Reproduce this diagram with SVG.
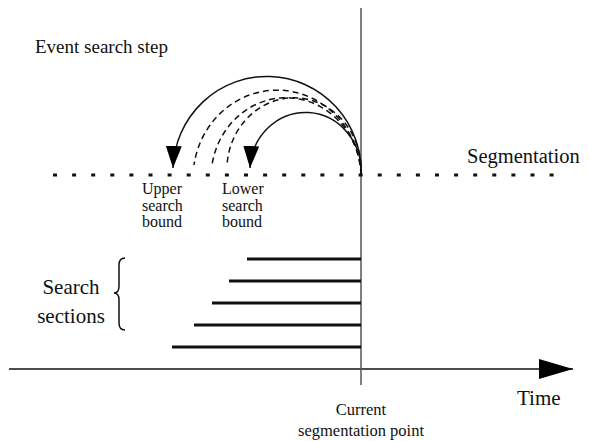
<svg xmlns="http://www.w3.org/2000/svg" width="589" height="441" viewBox="0 0 589 441">
<style>
text{font-family:"Liberation Serif","Times New Roman",serif;fill:#111}
.big{font-size:19px}
.lg{font-size:21px}
.mid{font-size:16px}
.sm{font-size:16.5px}
.solid{fill:none;stroke:#111;stroke-width:1.5}
.dash{fill:none;stroke:#111;stroke-width:1.5;stroke-dasharray:6 4}
.bar{stroke:#111;stroke-width:3.2}
</style>
<defs>
<marker id="ah" markerUnits="userSpaceOnUse" markerWidth="22" markerHeight="16" viewBox="0 0 22 16" refX="22" refY="8" orient="auto">
<path d="M0,0 L22,8 L0,16 z" fill="#000"/>
</marker>
<marker id="ta" markerUnits="userSpaceOnUse" markerWidth="34" markerHeight="20" viewBox="0 0 34 20" refX="34" refY="10" orient="auto">
<path d="M0,0 L34,10 L0,20 z" fill="#000"/>
</marker>
</defs>
<g id="connectors">
<line id="timeline" x1="9" y1="369" x2="573" y2="369" class="solid" marker-end="url(#ta)"/>
<line id="current" x1="361" y1="8" x2="361" y2="385" stroke="#555" stroke-width="1.5"/>
<line id="segline" x1="53" y1="175" x2="556" y2="175" stroke="#111" stroke-width="3.2" stroke-dasharray="4 15.1"/>
<path class="solid" d="M361,175 A94,95 0 0 0 173,168" marker-end="url(#ah)"/>
<path class="dash" d="M361,175 A84,88 0 0 0 194,165"/>
<path class="dash" d="M361,175 A75,80 0 0 0 212,165"/>
<path class="dash" d="M361,175 A67,72 0 0 0 227,165"/>
<path class="solid" d="M361,175 A55.5,59 0 0 0 250,168" marker-end="url(#ah)"/>
</g>
<g id="sections">
<line class="bar" x1="247" y1="259" x2="361" y2="259"/>
<line class="bar" x1="229" y1="281" x2="361" y2="281"/>
<line class="bar" x1="212" y1="303" x2="361" y2="303"/>
<line class="bar" x1="194" y1="325" x2="361" y2="325"/>
<line class="bar" x1="172" y1="347" x2="361" y2="347"/>
</g>
<g id="brace">
<path class="solid" stroke-width="1.3" d="M125,258 Q119,258 119,265 L119,286 Q119,293 114,293 Q119,293 119,300 L119,323 Q119,330 125,330"/>
</g>
<g id="labels">
<text class="big" x="35" y="53">Event search step</text>
<text class="big" x="467" y="163" style="font-size:20.5px">Segmentation</text>
<text class="mid" x="142" y="194">Upper</text>
<text class="mid" x="142" y="210.5">search</text>
<text class="mid" x="142" y="227">bound</text>
<text class="mid" x="222" y="194">Lower</text>
<text class="mid" x="222" y="210.5">search</text>
<text class="mid" x="222" y="227">bound</text>
<text class="lg" x="71" y="294" text-anchor="middle">Search</text>
<text class="lg" x="71" y="323" text-anchor="middle">sections</text>
<text class="lg" x="517" y="405">Time</text>
<text class="sm" x="361" y="415" text-anchor="middle">Current</text>
<text class="sm" x="361" y="436" text-anchor="middle">segmentation point</text>
</g>
</svg>
